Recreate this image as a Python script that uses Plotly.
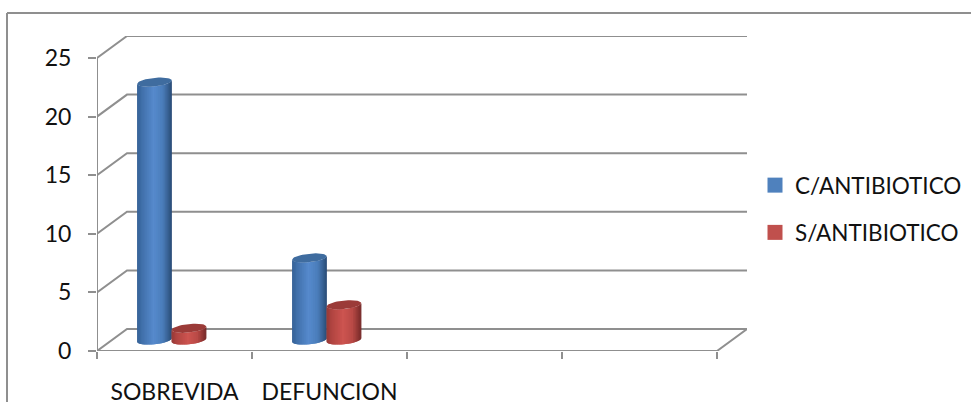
import math
import plotly.graph_objects as go

# Chart data
categories = ["SOBREVIDA", "DEFUNCION", "", ""]
series_names = ["C/ANTIBIOTICO", "S/ANTIBIOTICO"]
con_antibiotico = [22, 7]
sin_antibiotico = [1, 3]
y_ticks = [0, 5, 10, 15, 20, 25]

# Oblique projection of the chart box, in axis units
WIDTH, HEIGHT = 971, 402
LEFT, RIGHT, TOP, BOTTOM = 97, 224, 36, 51
DEPTH_X = 30 / 155
DEPTH_Y = 22 / 11.72
GRID = "#8f8f8f"
TEXT = "#111111"
FONT = "Lato"

# Cylinder shape parameters
CENTER_SHIFT = 0.385
HALF_W = 0.104
DEPTH_R = 0.21
STRIPS = 28

# Body shading: (position across the silhouette, colour)
BLUE_BODY = [(0, (52, 96, 150)), (0.12, (64, 112, 170)), (0.45, (86, 138, 205)),
             (0.72, (74, 124, 185)), (0.9, (52, 92, 140)), (1, (40, 74, 116))]
RED_BODY = [(0, (150, 58, 55)), (0.12, (176, 68, 65)), (0.45, (205, 84, 80)),
            (0.72, (185, 74, 70)), (0.9, (140, 52, 50)), (1, (112, 40, 38))]
BLUE_CAP = "#3f6c9f"
RED_CAP = "#9b3b38"
BLUE_KEY = "#4f81bd"
RED_KEY = "#c0504d"


def shade(stops, p):
    for (p0, c0), (p1, c1) in zip(stops, stops[1:]):
        if p <= p1:
            k = (p - p0) / (p1 - p0)
            return "rgb(%d,%d,%d)" % tuple(round(a + (b - a) * k) for a, b in zip(c0, c1))
    return "rgb(%d,%d,%d)" % stops[-1][1]


def project(x, y, depth):
    return x + DEPTH_X * depth, y + DEPTH_Y * depth


def rim(cx, y, t):
    u, v = math.cos(t), math.sin(t)
    return project(cx + HALF_W * u, y, 0.5 + DEPTH_R * v)


def silhouette_start():
    return math.atan2(DEPTH_X * DEPTH_R, HALF_W)


def paper_x(px):
    return (px - LEFT) / (WIDTH - LEFT - RIGHT)


def paper_y(px):
    return (HEIGHT - BOTTOM - px) / (HEIGHT - TOP - BOTTOM)


fig = go.Figure()


def add_line(xs, ys, width=2):
    fig.add_trace(go.Scatter(x=xs, y=ys, mode="lines", showlegend=False, hoverinfo="skip",
                             cliponaxis=False, line=dict(color=GRID, width=width)))


# Walls and floor
n = len(categories)
for tick in y_ticks:
    x0, y0 = project(0, tick, 0)
    x1, y1 = project(0, tick, 1)
    x2, y2 = project(n, tick, 1)
    add_line([x0, x1, x2], [y0, y1, y2])
add_line([0, 0], [0, y_ticks[-1]])
add_line([0, n, project(n, 0, 1)[0]], [0, 0, project(n, 0, 1)[1]])


def add_cylinder(cx, value, body, cap):
    t_end = silhouette_start()
    t_start = t_end - math.pi
    for i in range(STRIPS):
        # Each strip runs on under its neighbour so no seams show between them
        t0 = t_start + (t_end - t_start) * i / STRIPS
        t1 = t_start + (t_end - t_start) * min(i + 2, STRIPS) / STRIPS
        ts = [t0 + (t1 - t0) * k / 4 for k in range(5)]
        pts = [rim(cx, 0, t) for t in ts] + [rim(cx, value, t) for t in reversed(ts)]
        pos = (rim(cx, 0, t0)[0] - rim(cx, 0, t_start)[0]) / (rim(cx, 0, t_end)[0] - rim(cx, 0, t_start)[0])
        fig.add_trace(go.Scatter(x=[p[0] for p in pts] + [pts[0][0]], y=[p[1] for p in pts] + [pts[0][1]],
                                 mode="lines", fill="toself", fillcolor=shade(body, pos),
                                 line=dict(width=0), showlegend=False, hoverinfo="skip", cliponaxis=False))
    top = [rim(cx, value, 2 * math.pi * k / 48) for k in range(49)]
    fig.add_trace(go.Scatter(x=[p[0] for p in top], y=[p[1] for p in top], mode="lines", fill="toself",
                             fillcolor=cap, line=dict(width=0), showlegend=False, hoverinfo="skip",
                             cliponaxis=False))


for i, (blue, red) in enumerate(zip(con_antibiotico, sin_antibiotico)):
    add_cylinder(i + CENTER_SHIFT - HALF_W * 1.07, blue, BLUE_BODY, BLUE_CAP)
    add_cylinder(i + CENTER_SHIFT + HALF_W * 1.07, red, RED_BODY, RED_CAP)

# Legend keys
for name, key in zip(series_names, [BLUE_KEY, RED_KEY]):
    fig.add_trace(go.Scatter(x=[None], y=[None], mode="markers", name=name, legendgroup=name,
                             marker=dict(symbol="square", size=15, color=key)))

fig.update_layout(
    width=WIDTH, height=HEIGHT, autosize=False,
    paper_bgcolor="white", plot_bgcolor="white",
    margin=dict(l=LEFT, r=RIGHT, t=TOP, b=BOTTOM, pad=0, autoexpand=False),
    font=dict(family=FONT, color=TEXT),
    xaxis=dict(range=[0, n + DEPTH_X], showgrid=False, zeroline=False, showline=False, automargin=False,
               tickmode="array", tickvals=[i + 0.5 for i in range(n)], ticktext=categories,
               ticks="", ticklabelstandoff=25, tickfont=dict(size=23, family=FONT, color=TEXT),
               minor=dict(ticks="outside", tick0=0, dtick=1, ticklen=7, tickwidth=2,
                          tickcolor=GRID, showgrid=False)),
    yaxis=dict(range=[0, y_ticks[-1] + DEPTH_Y], showgrid=False, zeroline=False, showline=False, automargin=False,
               tickmode="array", tickvals=y_ticks, ticks="outside", ticklen=8, tickwidth=2,
               tickcolor=GRID, ticklabelstandoff=12, tickfont=dict(size=23, family=FONT, color=TEXT)),
    legend=dict(x=paper_x(755), y=paper_y(164), xanchor="left", yanchor="top", tracegroupgap=15,
                font=dict(size=22.5, family=FONT, color=TEXT), bgcolor="rgba(0,0,0,0)"),
    shapes=[dict(type="line", xref="paper", yref="paper",
                 x0=paper_x(7), x1=paper_x(WIDTH), y0=paper_y(13), y1=paper_y(13),
                 line=dict(color=GRID, width=2)),
            dict(type="line", xref="paper", yref="paper",
                 x0=paper_x(7), x1=paper_x(7), y0=paper_y(13), y1=paper_y(HEIGHT),
                 line=dict(color=GRID, width=2))],
)

fig.write_html("out.html")
